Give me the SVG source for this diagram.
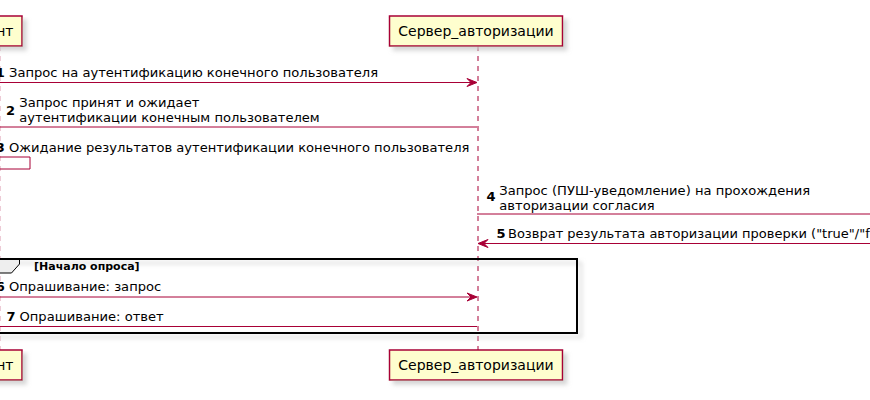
<svg xmlns="http://www.w3.org/2000/svg" width="870" height="400" viewBox="0 0 870 400">
<defs>
<filter id="sh" x="-10%" y="-10%" width="130%" height="150%">
<feGaussianBlur in="SourceAlpha" stdDeviation="2" result="b"/>
<feOffset in="b" dx="4" dy="4" result="o"/>
<feColorMatrix in="o" type="matrix" values="0 0 0 0 0.6  0 0 0 0 0.6  0 0 0 0 0.6  0 0 0 0.8 0" result="c"/>
<feMerge><feMergeNode in="c"/><feMergeNode in="SourceGraphic"/></feMerge>
</filter>
</defs>
<style>
text{font-family:"DejaVu Sans","Noto Sans",sans-serif;fill:#000}
.p{fill:#FEFECE;stroke:#A80036;stroke-width:1.5}
.pt{font-size:14px}
.m{font-size:13.1px}
.m5{font-size:13px}
.n{font-size:13px;font-weight:bold}
.ll{stroke:#A80036;stroke-width:1;stroke-dasharray:5,5;fill:none}
.a{stroke:#A80036;stroke-width:1;fill:none}
.ah{fill:#A80036;stroke:#A80036;stroke-width:1}
.g{fill:none;stroke:#000;stroke-width:2}
.gt{font-size:11px;font-weight:bold}
</style>
<rect width="870" height="400" fill="#FFFFFF"/>
<g id="lifelines">
<line class="ll" x1="-0.3" y1="46" x2="-0.3" y2="350"/>
<line class="ll" x1="478" y1="46" x2="478" y2="350"/>
</g>
<g id="group-polling">
<rect class="g" x="-30" y="259" width="607" height="74" filter="url(#sh)"/>
<polygon points="-40,259 19.5,259 19.5,264 11.5,273 -40,273" fill="#EEEEEE" stroke="#000" stroke-width="1"/>
<rect x="-30" y="258" width="607" height="2" fill="#000"/>
<text class="gt" x="34" y="270">[Начало опроса]</text>
</g>
<g id="client-top">
<rect class="p" x="-24" y="16" width="46" height="30" filter="url(#sh)"/>
<text class="pt" x="13.5" y="36" text-anchor="end">нт</text>
</g>
<g id="server-top">
<rect class="p" x="389.5" y="16" width="173" height="30" filter="url(#sh)"/>
<text class="pt" x="476" y="36" text-anchor="middle">Сервер_авторизации</text>
</g>
<g id="client-bottom">
<rect class="p" x="-24" y="350" width="46" height="30" filter="url(#sh)"/>
<text class="pt" x="13.5" y="370" text-anchor="end">нт</text>
</g>
<g id="server-bottom">
<rect class="p" x="389.5" y="350" width="173" height="30" filter="url(#sh)"/>
<text class="pt" x="476" y="370" text-anchor="middle">Сервер_авторизации</text>
</g>
<g id="connectors">
<line class="a" x1="-10" y1="82.5" x2="476" y2="82.5"/>
<polygon class="ah" points="467,78.5 477,82.5 467,86.5 471,82.5"/>
<line class="a" x1="-10" y1="127" x2="477" y2="127"/>
<polyline class="a" points="-10,157 30,157 30,169 -10,169"/>
<line class="a" x1="477" y1="214" x2="880" y2="214"/>
<line class="a" x1="478" y1="243.5" x2="880" y2="243.5"/>
<polygon class="ah" points="488,239.5 478,243.5 488,247.5 484,243.5"/>
<line class="a" x1="-10" y1="297" x2="476" y2="297"/>
<polygon class="ah" points="467,293 477,297 467,301 471,297"/>
<line class="a" x1="-10" y1="326.5" x2="477" y2="326.5"/>
</g>
<g id="labels">
<text class="m" x="-4.2" y="77"><tspan class="n">1</tspan> Запрос на аутентификацию конечного пользователя</text>
<text class="n" x="6" y="115">2</text>
<text class="m" x="19.3" y="106.5">Запрос принят и ожидает</text>
<text class="m" x="19.3" y="121.6">аутентификации конечным пользователем</text>
<text class="m" x="-4.2" y="152"><tspan class="n">3</tspan> Ожидание результатов аутентификации конечного пользователя</text>
<text class="n" x="486.5" y="201">4</text>
<text class="m" x="499.3" y="194.5">Запрос (ПУШ-уведомление) на прохождения</text>
<text class="m" x="499.3" y="209.6">авторизации согласия</text>
<text class="n" x="496.5" y="238">5</text>
<text class="m5" x="508" y="238">Возврат результата авторизации проверки ("true"/"f</text>
<text class="m" x="-4.2" y="291"><tspan class="n">6</tspan> Опрашивание: запрос</text>
<text class="n" x="6.5" y="321">7</text>
<text class="m" x="19.5" y="321">Опрашивание: ответ</text>
</g>
</svg>
